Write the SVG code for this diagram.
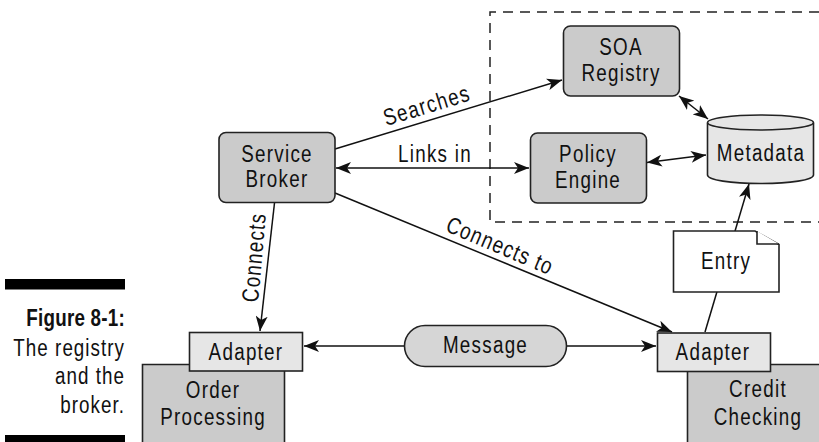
<svg xmlns="http://www.w3.org/2000/svg" width="819" height="442" viewBox="0 0 819 442">
<style>
text{font-family:"Liberation Sans",Arial,sans-serif;font-size:23.5px;letter-spacing:1.6px;fill:#111;text-anchor:middle}
.box{stroke:#222;stroke-width:1.6}
.g1{fill:#cbcbcb}.g2{fill:#e6e6e6}.g3{fill:#d6d6d6}
.line{fill:none;stroke:#111;stroke-width:1.5}
.cap{text-anchor:end;letter-spacing:1.3px}
</style>
<defs>
<marker id="a" viewBox="0 0 16 12" refX="15" refY="6" markerWidth="16" markerHeight="12" markerUnits="userSpaceOnUse" orient="auto-start-reverse"><path d="M0 0L15 6L0 12L4 6Z" fill="#111"/></marker>
</defs>
<rect width="819" height="442" fill="#fff"/>
<g id="container"><path d="M819 12H490V222H819" fill="none" stroke="#222" stroke-width="1.5" stroke-dasharray="10 7"/></g>
<g id="caption">
<rect x="5" y="279" width="120" height="10.500" fill="#000"/>
<rect x="5" y="435" width="120" height="7" fill="#000"/>
<text class="cap" transform="translate(125 326) scale(.8 1)" style="font-weight:bold;letter-spacing:.3px">Figure 8-1:</text>
<text class="cap" transform="translate(125 356) scale(.8 1)">The registry</text>
<text class="cap" transform="translate(125 384) scale(.8 1)">and the</text>
<text class="cap" transform="translate(125 413) scale(.8 1)">broker.</text>
</g>
<g id="connectors">
<path class="line" d="M335 149L562 80" marker-end="url(#a)"/>
<path class="line" d="M336 168H529" marker-start="url(#a)" marker-end="url(#a)"/>
<path class="line" d="M335 193L672 332" marker-end="url(#a)"/>
<path class="line" d="M274.500 203L260 331" marker-end="url(#a)"/>
<path class="line" d="M404 346H304" marker-end="url(#a)"/>
<path class="line" d="M567 346H656" marker-end="url(#a)"/>
<path class="line" d="M705 332L749 184" marker-end="url(#a)"/>
<path class="line" d="M679 96L708 119" marker-start="url(#a)" marker-end="url(#a)"/>
<path class="line" d="M647 162.500L706 155" marker-start="url(#a)" marker-end="url(#a)"/>
<text transform="translate(429 113) rotate(-17) scale(.8 1)">Searches</text>
<text transform="translate(435 162) scale(.8 1)">Links in</text>
<text transform="translate(497 253) rotate(23) scale(.8 1)">Connects to</text>
<text transform="translate(262 258) rotate(-85) scale(.8 1)">Connects</text>
</g>
<g id="soa-registry"><rect class="box g1" x="563.500" y="26" width="116" height="70" rx="7"/><text transform="translate(621 55) scale(.8 1)">SOA</text><text transform="translate(621 81) scale(.8 1)">Registry</text></g>
<g id="policy-engine"><rect class="box g1" x="530.500" y="133" width="116" height="70" rx="7"/><text transform="translate(588 162) scale(.8 1)">Policy</text><text transform="translate(588 188) scale(.8 1)">Engine</text></g>
<g id="service-broker"><rect class="box g1" x="219" y="132.500" width="116" height="70" rx="7"/><text transform="translate(277 161.500) scale(.8 1)">Service</text><text transform="translate(277 187) scale(.8 1)">Broker</text></g>
<g id="metadata">
<path class="box g2" d="M707.500 123V175C707.500 180 731 183.500 760.500 183.500S813.500 180 813.500 175V123"/>
<ellipse class="box g2" cx="760.500" cy="122.500" rx="53" ry="7.500"/>
<text transform="translate(761 161) scale(.8 1)">Metadata</text>
</g>
<g id="order-processing"><path class="box g1" d="M142.500 444V364.500H284.500V444"/><text transform="translate(213 398) scale(.8 1)">Order</text><text transform="translate(213 425) scale(.8 1)">Processing</text></g>
<g id="adapter-left"><rect class="box g2" x="189.500" y="332.500" width="113" height="38.500"/><text transform="translate(246 360) scale(.8 1)">Adapter</text></g>
<g id="credit-checking"><path class="box g1" d="M687.500 444V364.500H821V444"/><text transform="translate(758 397) scale(.8 1)">Credit</text><text transform="translate(758 425) scale(.8 1)">Checking</text></g>
<g id="adapter-right"><rect class="box g2" x="657.500" y="333" width="113" height="38.500"/><text transform="translate(713 360) scale(.8 1)">Adapter</text></g>
<g id="message"><rect class="box g3" x="404.500" y="325.500" width="162" height="41" rx="20.500"/><text transform="translate(485.500 353) scale(.8 1)">Message</text></g>
<g id="entry"><path class="box" fill="#fff" d="M673.500 231H755L779 244.500V292H673.500Z"/><path class="box" fill="#fff" d="M757 231V244H779"/><text transform="translate(726 269) scale(.8 1)">Entry</text></g>
</svg>
